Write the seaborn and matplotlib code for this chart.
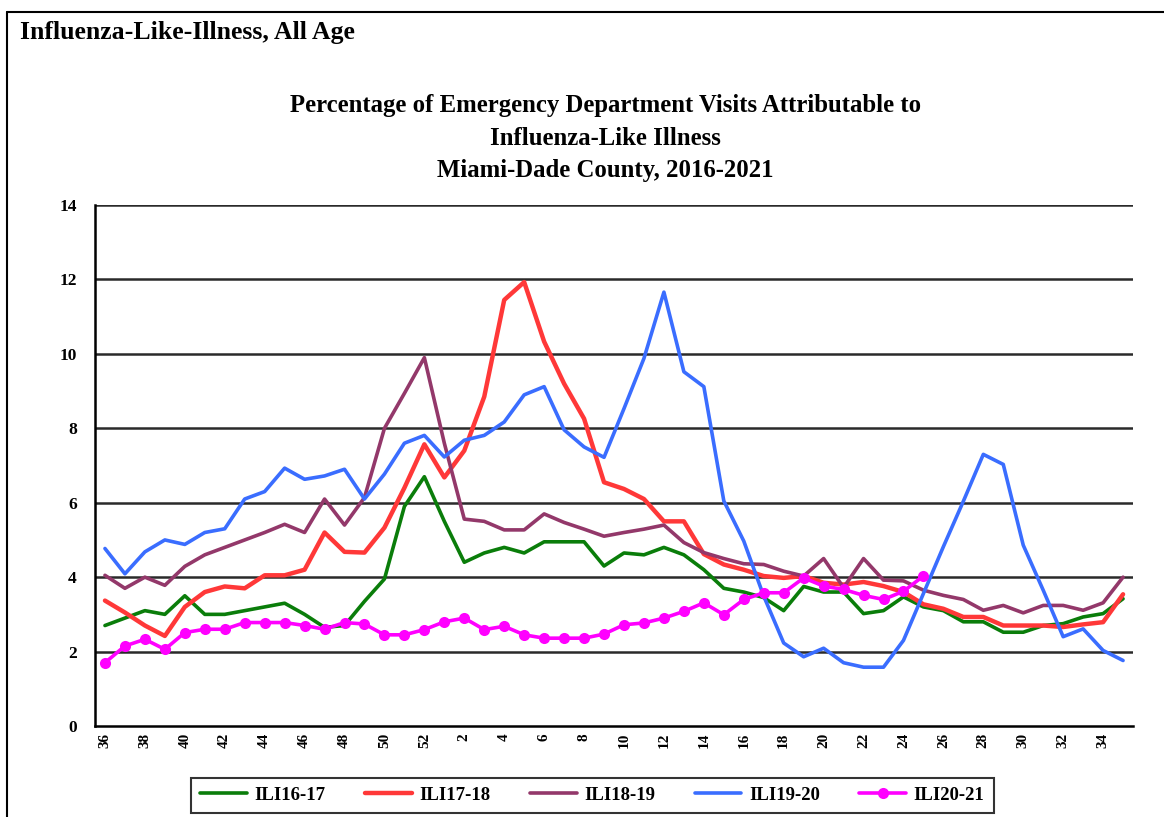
import matplotlib
matplotlib.use("Agg")
import matplotlib.pyplot as plt
import numpy as np
import pandas as pd
import seaborn as sns
from matplotlib.lines import Line2D

# week labels, season starts at week 36
weeks = [str(w) for w in list(range(36, 53)) + list(range(1, 36))]

ili_16_17 = [2.7, 2.9, 3.1, 3.0, 3.5, 3.0, 3.0, 3.1, 3.2, 3.3, 3.0, 2.65, 2.7,
             3.35, 3.95, 5.9, 6.7, 5.5, 4.4, 4.65, 4.8, 4.65, 4.95, 4.95, 4.95, 4.3,
             4.65, 4.6, 4.8, 4.6, 4.2, 3.7, 3.6, 3.45, 3.1, 3.75, 3.6, 3.6,
             3.02, 3.1, 3.47, 3.2, 3.1, 2.8, 2.8, 2.52, 2.52, 2.7, 2.75, 2.93, 3.02, 3.42]
ili_17_18 = [3.37, 3.05, 2.7, 2.42, 3.2, 3.6, 3.75, 3.7, 4.05, 4.05, 4.2, 5.2, 4.68,
             4.66, 5.33, 6.4, 7.57, 6.68, 7.4, 8.85, 11.45, 11.93, 10.33, 9.2, 8.26, 6.55,
             6.37, 6.1, 5.5, 5.5, 4.62, 4.34, 4.2, 4.03, 3.98, 4.03, 3.85, 3.8,
             3.87, 3.76, 3.6, 3.27, 3.15, 2.93, 2.93, 2.7, 2.7, 2.7, 2.66, 2.73, 2.79, 3.54]
ili_18_19 = [4.05, 3.7, 4.0, 3.78, 4.29, 4.6, 4.8, 5.0, 5.2, 5.42, 5.2, 6.1, 5.4,
             6.14, 8.0, 8.94, 9.9, 7.6, 5.56, 5.5, 5.27, 5.27, 5.7, 5.47, 5.29, 5.1,
             5.2, 5.29, 5.4, 4.93, 4.66, 4.5, 4.36, 4.34, 4.16, 4.03, 4.5, 3.72,
             4.5, 3.92, 3.9, 3.65, 3.51, 3.4, 3.11, 3.24, 3.04, 3.24, 3.24, 3.11, 3.31, 4.0]
ili_19_20 = [4.77, 4.09, 4.68, 5.0, 4.88, 5.2, 5.3, 6.1, 6.3, 6.93, 6.63, 6.72, 6.9,
             6.1, 6.77, 7.6, 7.81, 7.23, 7.68, 7.81, 8.17, 8.9, 9.12, 7.96, 7.5, 7.22,
             8.53, 9.88, 11.66, 9.52, 9.12, 6.05, 4.97, 3.49, 2.23, 1.86, 2.09, 1.7,
             1.58, 1.58, 2.3, 3.56, 4.82, 6.04, 7.3, 7.03, 4.86, 3.65, 2.4, 2.61, 2.03, 1.76]
ili_20_21 = [1.7, 2.15, 2.33, 2.06, 2.51, 2.6, 2.6, 2.78, 2.78, 2.78, 2.7, 2.6, 2.78,
             2.74, 2.45, 2.45, 2.59, 2.8, 2.9, 2.59, 2.68, 2.45, 2.36, 2.36, 2.36, 2.47,
             2.72, 2.77, 2.9, 3.08, 3.31, 2.99, 3.4, 3.58, 3.58, 3.98, 3.76, 3.67,
             3.51, 3.4, 3.62, 4.03]

series = {
    "ILI16-17": ili_16_17,
    "ILI17-18": ili_17_18,
    "ILI18-19": ili_18_19,
    "ILI19-20": ili_19_20,
    "ILI20-21": ili_20_21,
}
colors = {
    "ILI16-17": "#0a7d0a",
    "ILI17-18": "#ff3838",
    "ILI18-19": "#93386a",
    "ILI19-20": "#3a6dff",
    "ILI20-21": "#ff00ff",
}
widths = {"ILI16-17": 2.6, "ILI17-18": 3.2, "ILI18-19": 2.6, "ILI19-20": 2.6, "ILI20-21": 2.6}

rows = []
for name, vals in series.items():
    for i, v in enumerate(vals):
        rows.append({"pos": i, "week": weeks[i], "season": name, "pct": v})
df = pd.DataFrame(rows)

sns.set_style("white")
plt.rcParams["font.family"] = ["Liberation Serif", "DejaVu Serif"]
plt.rcParams["font.weight"] = "bold"
plt.rcParams["text.color"] = "black"
plt.rcParams["xtick.color"] = "black"
plt.rcParams["ytick.color"] = "black"

fig = plt.figure(figsize=(11.64, 8.17), dpi=100)
ax = fig.add_axes([0.0816, 0.1114, 0.8918, 0.6376])

for name in series:
    sub = df[df["season"] == name]
    sns.lineplot(
        data=sub, x="pos", y="pct", ax=ax, color=colors[name],
        linewidth=widths[name], label=name,
        marker="o" if name == "ILI20-21" else None,
        markersize=8, markeredgewidth=0, zorder=3,
    )

ax.set_xlim(-0.5, len(weeks) - 0.5)
ax.set_ylim(0, 14)
ax.set_yticks(range(0, 15, 2))
for y in range(2, 15, 2):
    ax.axhline(y, color="#2a2a2a", linewidth=1.8, zorder=1)

ax.set_xticks(range(0, len(weeks), 2))
ax.set_xticklabels(weeks[::2], rotation=90, fontsize=11, fontweight="bold")
ax.set_xticks(np.arange(-0.5, len(weeks), 1), minor=True)
ax.tick_params(axis="x", which="major", length=0, pad=5)
ax.tick_params(axis="x", which="minor", length=6, width=1.3, color="black", direction="out")
ax.tick_params(axis="y", length=7, width=1.3, color="black", direction="out", labelsize=12.5, pad=6)
for lab in ax.get_yticklabels():
    lab.set_fontweight("bold")

for s in ["top", "right"]:
    ax.spines[s].set_visible(False)
for s in ["left", "bottom"]:
    ax.spines[s].set_color("black")
    ax.spines[s].set_linewidth(1.8)
ax.set_xlabel("")
ax.set_ylabel("")

leg = ax.legend(
    loc="upper center", bbox_to_anchor=(0.479, -0.081), ncol=5,
    frameon=True, fancybox=False, edgecolor="black",
    handlelength=2.5, columnspacing=2.1, handletextpad=0.4,
    borderpad=0.5, prop={"weight": "bold", "size": 13.5},
)
leg.get_frame().set_linewidth(1.5)

fig.text(0.017, 0.96, "Influenza-Like-Illness, All Age", fontsize=18.5,
         fontweight="bold", ha="left", va="center")
fig.text(0.52, 0.871, "Percentage of Emergency Department Visits Attributable to",
         fontsize=17.8, fontweight="bold", ha="center", va="center")
fig.text(0.52, 0.831, "Influenza-Like Illness", fontsize=17.8, fontweight="bold",
         ha="center", va="center")
fig.text(0.52, 0.791, "Miami-Dade County, 2016-2021", fontsize=17.8,
         fontweight="bold", ha="center", va="center")

# page frame (top and left edges)
fig.add_artist(Line2D([0.006, 1.0], [0.985, 0.985], color="black", linewidth=1.5))
fig.add_artist(Line2D([0.006, 0.006], [0.0, 0.985], color="black", linewidth=1.5))

fig.savefig("out.png", dpi=100)
